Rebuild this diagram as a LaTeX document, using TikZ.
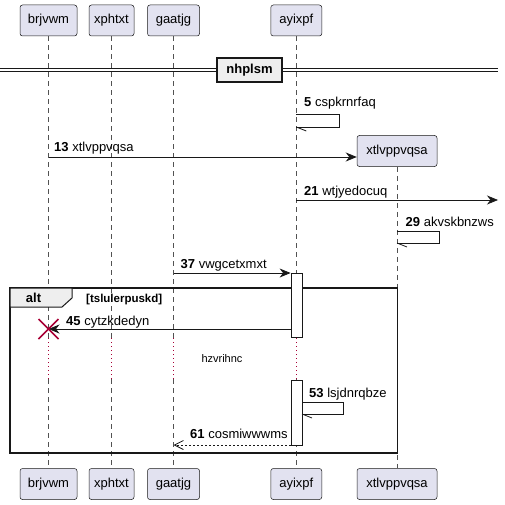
\documentclass[tikz,border=0pt]{standalone}
\usepackage{fontspec}
\setmainfont{Liberation Sans}
\usetikzlibrary{arrows.meta,calc}
\definecolor{partfill}{HTML}{E2E2F0}
\definecolor{ink}{HTML}{181818}
\definecolor{crim}{HTML}{A80036}
\definecolor{tabfill}{HTML}{EEEEEE}
\begin{document}
\begin{tikzpicture}[x=1pt,y=-1pt,
  font=\fontsize{13}{15}\selectfont,
  part/.style={draw=ink, line width=0.5pt, fill=partfill, rounded corners=2.5pt, minimum height=31pt, inner sep=0pt},
  life/.style={draw=ink!75, line width=0.5pt, dash pattern=on 5pt off 4pt},
  delayline/.style={draw=crim, line width=0.8pt, dash pattern=on 1pt off 3pt},
  msg/.style={draw=ink, line width=0.8pt, -{Stealth[length=11pt,width=9pt,inset=3.5pt]}},
  ret/.style={draw=ink, line width=0.8pt, dash pattern=on 2pt off 2pt, -{Straight Barb[length=9pt,width=9pt]}},
  selfline/.style={draw=ink, line width=0.8pt},
  lbl/.style={anchor=base west, inner sep=0pt},
  actbox/.style={draw=ink, line width=0.8pt, fill=white, minimum width=11pt, inner sep=0pt}
]
\useasboundingbox (0,0) rectangle (505,505);

% participants (top)
\node[part, minimum width=57pt] (brt) at (48.5,20.5) {brjvwm};
\node[part, minimum width=45pt] (xpt) at (111.5,20.5) {xphtxt};
\node[part, minimum width=52pt] (gat) at (173.5,20.5) {gaatjg};
\node[part, minimum width=51pt] (ayt) at (296.3,20.5) {ayixpf};
% participants (bottom)
\node[part, minimum width=57pt] (brb) at (48.5,484) {brjvwm};
\node[part, minimum width=45pt] (xpb) at (111.5,484) {xphtxt};
\node[part, minimum width=52pt] (gab) at (173.5,484) {gaatjg};
\node[part, minimum width=51pt] (ayb) at (296.3,484) {ayixpf};
\node[part, minimum width=80pt] (xtb) at (397,484) {xtlvppvqsa};
\node[part, minimum width=80pt] (xtt) at (397,151) {xtlvppvqsa};

% lifelines
\coordinate (d1) at (0,338);
\coordinate (d2) at (0,379);
\foreach \a/\b in {brt/brb, xpt/xpb, gat/gab, ayt/ayb}{
  \draw[life] (\a.south) -- (\a.south |- d1);
  \draw[delayline] (\a.south |- d1) -- (\a.south |- d2);
  \draw[life] (\a.south |- d2) -- (\b.north);
}
\draw[life] (xtt.south) -- (xtb.north);

% divider
\coordinate (dl1) at (0,68.5);
\coordinate (dr1) at (498,68.5);
\coordinate (dl2) at (0,71.5);
\coordinate (dr2) at (498,71.5);
\draw[ink, line width=1pt] (dl1) -- (dr1);
\draw[ink, line width=1pt] (dl2) -- (dr2);
\node[draw=ink, line width=1.5pt, fill=tabfill, minimum width=65pt, minimum height=24pt, inner sep=0pt, font=\fontsize{13}{15}\selectfont\bfseries] (div) at (249.5,70) {nhplsm};

% alt fragment
\draw[ink, line width=1.5pt] (10,288) rectangle (397.7,453);
\filldraw[fill=tabfill, draw=ink, line width=1pt] (10,288) -- (72,288) -- (72,298) -- (62,307) -- (10,307) -- cycle;
\node[anchor=base, inner sep=0pt, font=\fontsize{13}{15}\selectfont\bfseries] (altl) at (33.5,302.7) {alt};
\node[lbl, font=\fontsize{11.5}{13}\selectfont\bfseries] (cond) at (86,302.7) {[tslulerpuskd]};

% activations
\node[actbox, minimum height=64pt] (act1) at (296.5,305) {};
\node[actbox, minimum height=65pt] (act2) at (296.5,412.5) {};

% message 5 (self)
\coordinate (s5a) at (296.3,114);
\coordinate (s5b) at (296.3,127);
\draw[selfline] (s5a) -- (339,114) -- (339,127) -- (s5b);
\draw[selfline] (s5b) -- ++(10,4);
\node[lbl] (l5) at (304,107) {\textbf{5} cspkrnrfaq};

% message 13
\coordinate (m13) at (48.5,157);
\draw[msg] (m13) -- (xtt.west |- m13);
\node[lbl] (l13) at (54,152) {\textbf{13} xtlvppvqsa};

% message 21
\coordinate (m21s) at (296.3,200);
\coordinate (m21e) at (498,200);
\draw[msg] (m21s) -- (m21e);
\node[lbl] (l21) at (304,195) {\textbf{21} wtjyedocuq};

% message 29 (self)
\coordinate (s29a) at (397,231);
\coordinate (s29b) at (397,243);
\draw[selfline] (s29a) -- (439,231) -- (439,243) -- (s29b);
\draw[selfline] (s29b) -- ++(10,4);
\node[lbl] (l29) at (405.5,226) {\textbf{29} akvskbnzws};

% message 37
\coordinate (m37) at (173.5,273);
\draw[msg] (m37) -- (act1.west |- m37);
\node[lbl] (l37) at (180.5,268) {\textbf{37} vwgcetxmxt};

% message 45 + destroy
\coordinate (m45) at (291,329);
\coordinate (dx) at (48.5,329);
\draw[msg] (act1.west |- m45) -- (dx);
\draw[crim, line width=1.6pt] ($(dx)+(-10,-10)$) -- ($(dx)+(10,10)$);
\draw[crim, line width=1.6pt] ($(dx)+(-10,10)$) -- ($(dx)+(10,-10)$);
\node[lbl] (l45) at (66,325) {\textbf{45} cytzkdedyn};

% delay text
\node[inner sep=0pt, font=\fontsize{11}{13}\selectfont] (delay) at (222,359) {hzvrihnc};

% message 53 (self)
\coordinate (s53a) at (302,402);
\coordinate (s53b) at (302,414);
\draw[selfline] (s53a) -- (343,402) -- (343,414) -- (s53b);
\draw[selfline] (s53b) -- ++(10,4);
\node[lbl] (l53) at (309,397) {\textbf{53} lsjdnrqbze};

% message 61 (return)
\coordinate (m61) at (173.5,445);
\draw[ret] (act2.west |- m61) -- (m61);
\node[lbl] (l61) at (190,438) {\textbf{61} cosmiwwwms};

\end{tikzpicture}
\end{document}
